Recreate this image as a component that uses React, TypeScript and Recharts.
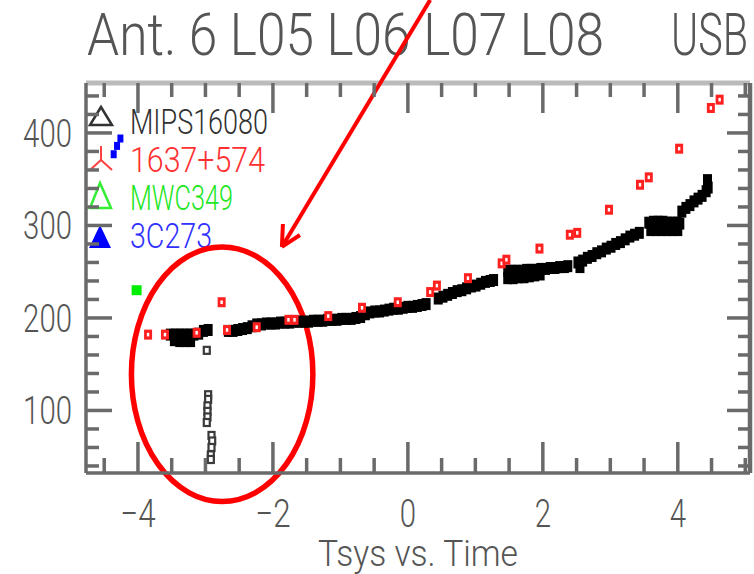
import React from 'react';
import {
  ScatterChart,
  Scatter,
  XAxis,
  YAxis,
  ReferenceLine,
  ReferenceArea,
} from 'recharts';

// ---- data -------------------------------------------------------------
// Tsys (K) against time (hours) for each calibrator.

const mipsBand: [number, number][] = [
  [-3.52, 182], [-3.45, 182], [-3.38, 182], [-3.31, 182], [-3.24, 182], [-3.17, 182],
  [-3.10, 183], [-3.03, 186], [-2.96, 187],
  [-3.46, 176], [-3.38, 175], [-3.30, 175], [-3.22, 175],
  [-2.66, 186], [-2.59, 186], [-2.52, 187], [-2.45, 188], [-2.38, 189], [-2.31, 191],
  [-2.24, 193], [-2.17, 193], [-2.10, 194], [-2.03, 194], [-1.96, 194], [-1.89, 195],
  [-1.82, 195], [-1.75, 195], [-1.68, 196], [-1.61, 196], [-1.54, 196], [-1.47, 196],
  [-1.40, 197], [-1.33, 197], [-1.26, 197], [-1.19, 198], [-1.12, 198], [-1.05, 198],
  [-0.98, 199], [-0.91, 199], [-0.84, 199], [-0.77, 200], [-0.70, 201], [-0.63, 204],
  [-0.56, 206], [-0.49, 207], [-0.42, 207], [-0.35, 208], [-0.28, 209], [-0.21, 210],
  [-0.14, 210], [-0.07, 211], [0.0, 212], [0.07, 212], [0.14, 213], [0.21, 214], [0.27, 215],
  [0.45, 221], [0.52, 223], [0.59, 225], [0.66, 227], [0.73, 229], [0.80, 230],
  [0.87, 232], [0.94, 234], [1.01, 235], [1.08, 237], [1.15, 239], [1.22, 240], [1.27, 241],
  [1.48, 251], [1.55, 251], [1.62, 251], [1.69, 251], [1.76, 252], [1.83, 252], [1.90, 252],
  [1.97, 253], [2.04, 253], [2.11, 254], [2.18, 254], [2.25, 255], [2.32, 255], [2.37, 256],
  [1.48, 243], [1.56, 243], [1.64, 244], [1.72, 244], [1.80, 245], [1.88, 246], [1.96, 247],
  [2.52, 260], [2.59, 262], [2.66, 265], [2.73, 267], [2.80, 270], [2.87, 272], [2.94, 275],
  [3.01, 277], [3.08, 280], [3.15, 282], [3.22, 285], [3.29, 288], [3.36, 290], [3.43, 292],
  [2.55, 255],
  [3.57, 303], [3.64, 304], [3.71, 304], [3.78, 304], [3.85, 303], [3.92, 303], [3.99, 303], [4.03, 302],
  [3.60, 295], [3.68, 295], [3.76, 295], [3.84, 295], [3.92, 295], [4.00, 295],
  [4.06, 315], [4.12, 319], [4.18, 322], [4.24, 326], [4.30, 329], [4.36, 332], [4.42, 337],
  [4.45, 341], [4.44, 349],
];

const mipsLow: [number, number][] = [
  [-2.98, 165], [-2.96, 117], [-2.96, 112], [-2.97, 105], [-2.97, 99], [-2.97, 93],
  [-2.98, 87], [-2.91, 73], [-2.90, 67], [-2.91, 60], [-2.92, 52], [-2.92, 47],
];

const src1637: [number, number][] = [
  [-3.85, 182], [-3.60, 182], [-3.13, 184], [-2.76, 217], [-2.68, 187], [-2.24, 190],
  [-1.77, 198], [-1.68, 198], [-1.18, 202], [-0.68, 211], [-0.15, 217], [0.33, 228],
  [0.43, 235], [0.89, 243], [1.39, 259], [1.46, 263], [1.95, 275], [2.40, 290],
  [2.51, 292], [2.98, 317], [3.44, 344], [3.57, 352], [4.02, 383], [4.49, 427], [4.62, 436],
];

const mwc349: [number, number][] = [[-4.02, 230]];

const src3c273: [number, number][] = [[-4.36, 377], [-4.31, 386], [-4.26, 394]];

const xTicks = [-4.5, -4, -3.5, -3, -2.5, -2, -1.5, -1, -0.5, 0, 0.5, 1, 1.5, 2, 2.5, 3, 3.5, 4, 4.5, 5];
const xMajor = [-4, -2, 0, 2, 4];
const yTicks = [40, 60, 80, 100, 120, 140, 160, 180, 200, 220, 240, 260, 280, 300, 320, 340, 360, 380, 400, 420, 440];
const yMajor = [100, 200, 300, 400];

const legendNames = ['MIPS16080', '1637+574', 'MWC349', '3C273'];
const titleMain = 'Ant. 6 L05 L06 L07 L08';
const titleSide = 'USB';
const xTitle = 'Tsys  vs.  Time';

// ---- layout ----------------------------------------------------------
const W = 754;
const H = 574;
const PLOT_W = 664;
const PLOT_H = 390;
const AXIS = '#6a6a6a';
const FONT = "Roboto, 'Liberation Sans', sans-serif";
const TXT = '#555555';

const toPts = (arr: [number, number][]) => arr.map(([x, y]) => ({ x, y }));

const labelWidth = (s: string) =>
  s.split('').reduce((w, ch) => w + (ch === '\u2212' ? 19 : 16.3), 0);

function XTick(props: any) {
  const { x, y, payload } = props;
  const v = payload.value as number;
  const major = xMajor.includes(v);
  const label = v < 0 ? `\u2212${Math.abs(v)}` : `${v}`;
  return (
    <g>
      <line x1={x} x2={x} y1={y} y2={y - (major ? 31 : 15)} stroke={AXIS} strokeWidth={3.5} />
      <line
        x1={x}
        x2={x}
        y1={y - PLOT_H}
        y2={y - PLOT_H + (major ? 30 : 14)}
        stroke={AXIS}
        strokeWidth={3.5}
      />
      {major && (
        <text
          x={x}
          y={y + 54}
          textAnchor="middle"
          fontFamily={FONT}
          fontWeight={300}
          fontSize={39}
          fill={TXT}
          textLength={labelWidth(label)}
          lengthAdjust="spacingAndGlyphs"
        >
          {label}
        </text>
      )}
    </g>
  );
}

function YTick(props: any) {
  const { x, y, payload } = props;
  const v = payload.value as number;
  const major = yMajor.includes(v);
  const label = `${v}`;
  return (
    <g>
      <line x1={x} x2={x + (major ? 26 : 13)} y1={y} y2={y} stroke={AXIS} strokeWidth={3.5} />
      <line
        x1={x + PLOT_W}
        x2={x + PLOT_W - (major ? 23 : 12)}
        y1={y}
        y2={y}
        stroke={AXIS}
        strokeWidth={3.5}
      />
      {major && (
        <text
          x={x - 14}
          y={y + 14}
          textAnchor="end"
          fontFamily={FONT}
          fontWeight={300}
          fontSize={39}
          fill={TXT}
          textLength={labelWidth(label)}
          lengthAdjust="spacingAndGlyphs"
        >
          {label}
        </text>
      )}
    </g>
  );
}

const BlackSquare = (p: any) => (
  <rect x={p.cx - 4.5} y={p.cy - 6} width={9} height={12} fill="#000" />
);

const LowSquare = (p: any) => (
  <rect x={p.cx - 3} y={p.cy - 3.5} width={6} height={7} fill="#fff" stroke="#3a3a3a" strokeWidth={2.2} />
);

const RedSquare = (p: any) => (
  <g>
    <rect x={p.cx - 4} y={p.cy - 5} width={8} height={10} fill="#ff2020" />
    <rect x={p.cx - 1.2} y={p.cy - 1.8} width={2.4} height={3.6} fill="#fff" />
  </g>
);

const GreenSquare = (p: any) => (
  <rect x={p.cx - 5} y={p.cy - 5} width={10} height={10} fill="#00ee00" />
);

const BlueDot = (p: any) => (
  <rect x={p.cx - 3} y={p.cy - 4} width={6} height={8} fill="#0000ff" />
);

const Ellipse = (p: any) => (
  <ellipse
    cx={p.x + p.width / 2}
    cy={p.y + p.height / 2}
    rx={p.width / 2}
    ry={p.height / 2}
    fill="none"
    stroke="#ff0000"
    strokeWidth={5.5}
  />
);

function Legend() {
  const rows = [
    { name: legendNames[0], color: '#303030', y: 134 },
    { name: legendNames[1], color: '#ff3030', y: 172 },
    { name: legendNames[2], color: '#22e622', y: 210 },
    { name: legendNames[3], color: '#3030ff', y: 248 },
  ];
  const widths = [138, 135, 103, 82];
  return (
    <g>
      <polygon points="101,107 90,125 112,125" fill="none" stroke="#333" strokeWidth={2.5} />
      <g stroke="#ff4040" strokeWidth={2}>
        <line x1={101} y1={160} x2={101} y2={146} />
        <line x1={101} y1={160} x2={90} y2={170} />
        <line x1={101} y1={160} x2={112} y2={170} />
      </g>
      <polygon points="100,183 90,208 111,208" fill="none" stroke="#33ee33" strokeWidth={2.5} />
      <polygon points="100,225 89,248 111,248" fill="#0000ff" />
      {rows.map((r, i) => (
        <text
          key={r.name}
          x={130}
          y={r.y}
          fontFamily={FONT}
          fontWeight={300}
          fontSize={35}
          fill={r.color}
          textLength={widths[i]}
          lengthAdjust="spacingAndGlyphs"
        >
          {r.name}
        </text>
      ))}
    </g>
  );
}

export default function App() {
  return (
    <div style={{ position: 'absolute', left: 0, top: 0, width: W, height: H, background: '#fff' }}>
      <svg width={W} height={H} style={{ position: 'absolute', left: 0, top: 0 }}>
        <text
          x={87}
          y={55}
          fontFamily={FONT}
          fontWeight={300}
          fontSize={59}
          fill={TXT}
          textLength={517}
          lengthAdjust="spacingAndGlyphs"
        >
          {titleMain}
        </text>
        <text
          x={671}
          y={55}
          fontFamily={FONT}
          fontWeight={300}
          fontSize={59}
          fill={TXT}
          textLength={77}
          lengthAdjust="spacingAndGlyphs"
        >
          {titleSide}
        </text>
        <text
          x={318}
          y={566}
          fontFamily={FONT}
          fontWeight={300}
          fontSize={36}
          fill={TXT}
          textLength={200}
          lengthAdjust="spacingAndGlyphs"
        >
          {xTitle}
        </text>
        <Legend />
      </svg>
      <div style={{ position: 'absolute', left: 0, top: 0 }}>
        <ScatterChart width={W} height={H} margin={{ top: 83, right: 4, bottom: 0, left: 0 }}>
          <XAxis
            type="number"
            dataKey="x"
            domain={[-4.77, 5.07]}
            allowDataOverflow
            ticks={xTicks}
            interval={0}
            tick={<XTick />}
            tickLine={false}
            tickSize={0}
            tickMargin={0}
            height={101}
            axisLine={{ stroke: AXIS, strokeWidth: 3.5 }}
          />
          <YAxis
            type="number"
            dataKey="y"
            domain={[32.4, 454]}
            allowDataOverflow
            ticks={yTicks}
            interval={0}
            tick={<YTick />}
            tickLine={false}
            tickSize={0}
            tickMargin={0}
            width={86}
            axisLine={{ stroke: AXIS, strokeWidth: 3.5 }}
          />
          <ReferenceLine y={454} stroke="#bbbbbb" strokeWidth={5} ifOverflow="visible" />
          <ReferenceLine x={5.07} stroke={AXIS} strokeWidth={4.5} ifOverflow="visible" />
          <Scatter data={toPts(mipsBand)} shape={BlackSquare} isAnimationActive={false} />
          <Scatter data={toPts(mipsLow)} shape={LowSquare} isAnimationActive={false} />
          <Scatter data={toPts(src1637)} shape={RedSquare} isAnimationActive={false} />
          <Scatter data={toPts(mwc349)} shape={GreenSquare} isAnimationActive={false} />
          <Scatter data={toPts(src3c273)} shape={BlueDot} isAnimationActive={false} />
          <ReferenceArea
            x1={-4.097}
            x2={-1.408}
            y1={1.6}
            y2={276.8}
            ifOverflow="visible"
            shape={Ellipse}
          />
          <ReferenceLine
            segment={[{ x: -1.867, y: 276.8 }, { x: 0.33, y: 543.8 }]}
            stroke="#ff0000"
            strokeWidth={4}
            ifOverflow="visible"
          />
          <ReferenceLine
            segment={[{ x: -1.867, y: 276.8 }, { x: -1.852, y: 301.6 }]}
            stroke="#ff0000"
            strokeWidth={4}
            ifOverflow="visible"
          />
          <ReferenceLine
            segment={[{ x: -1.867, y: 276.8 }, { x: -1.6, y: 289.7 }]}
            stroke="#ff0000"
            strokeWidth={4}
            ifOverflow="visible"
          />
        </ScatterChart>
      </div>
    </div>
  );
}
